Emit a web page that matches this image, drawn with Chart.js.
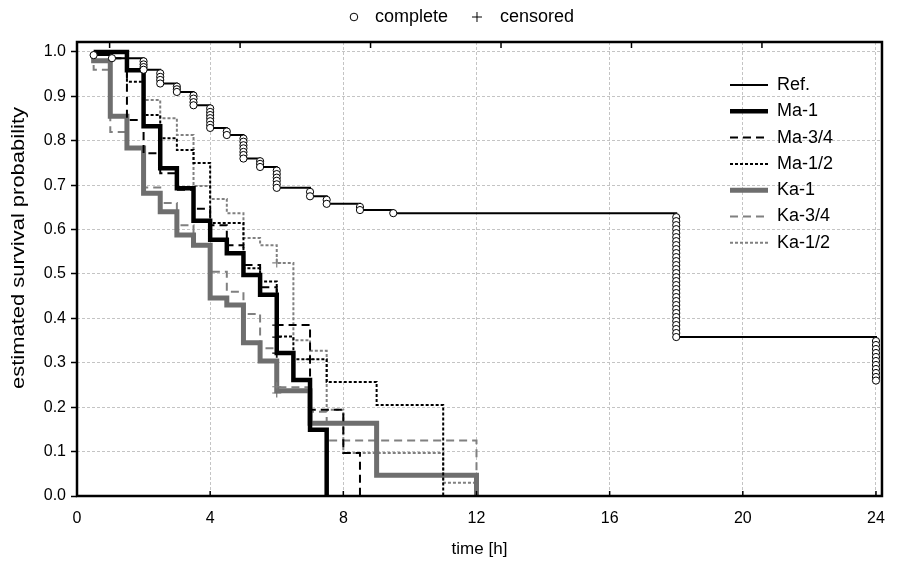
<!DOCTYPE html>
<html>
<head>
<meta charset="utf-8">
<script src="https://cdn.jsdelivr.net/npm/chart.js@4.4.1/dist/chart.umd.min.js"></script>
<style>
  html, body { margin: 0; padding: 0; background: #fff; }
</style>
</head>
<body>
<canvas id="km" width="898" height="568"></canvas>
<script>
// step curves: time of each step [h] and estimated survival after it
const refTimes = [0.5, 0.5, 1.05, 2.0, 2.5, 3.0, 3.5, 4.0, 4.5, 5.0, 5.5, 6.0, 7.0, 7.5, 8.5, 9.5, 18.0, 24.0];
const refSurv  = [1.0, 0.993, 0.986, 0.96, 0.929, 0.91, 0.88, 0.829, 0.813, 0.76, 0.741, 0.694, 0.675, 0.658, 0.644, 0.637, 0.358, 0.26];

const ma1Times = [0.5, 1.5, 2.0, 2.5, 3.0, 3.5, 4.0, 4.5, 5.0, 5.5, 6.0, 6.5, 7.0, 7.5];
const ma1Surv  = [1.0, 0.959, 0.833, 0.738, 0.693, 0.62, 0.577, 0.547, 0.498, 0.453, 0.322, 0.261, 0.149, 0.0];

const ma34Times = [0.5, 1.0, 1.5, 2.0, 2.5, 3.0, 3.5, 4.0, 4.5, 5.0, 5.5, 6.0, 7.0, 8.0, 8.5];
const ma34Surv  = [1.0, 0.986, 0.847, 0.772, 0.727, 0.69, 0.647, 0.61, 0.565, 0.52, 0.47, 0.385, 0.194, 0.097, 0.0];

const ma12Times = [0.5, 1.5, 2.0, 2.5, 3.0, 3.5, 4.0, 5.0, 5.5, 6.0, 6.5, 7.5, 9.0, 11.0];
const ma12Surv  = [1.0, 0.933, 0.858, 0.806, 0.779, 0.75, 0.615, 0.513, 0.483, 0.359, 0.308, 0.257, 0.205, 0.0];

const ka1Times = [0.5, 0.5, 1.0, 1.5, 2.0, 2.5, 3.0, 3.5, 4.0, 4.5, 5.0, 5.5, 6.0, 7.0, 9.0, 12.0];
const ka1Surv  = [1.0, 0.98, 0.855, 0.784, 0.682, 0.64, 0.588, 0.565, 0.446, 0.43, 0.345, 0.304, 0.237, 0.164, 0.047, 0.0];

const ka34Times = [0.5, 0.5, 1.0, 1.5, 2.0, 2.5, 3.0, 3.5, 4.0, 4.5, 5.0, 5.5, 6.0, 7.0, 7.5, 12.0];
const ka34Surv  = [1.0, 0.96, 0.82, 0.784, 0.695, 0.66, 0.61, 0.565, 0.505, 0.46, 0.41, 0.333, 0.245, 0.19, 0.125, 0.0];

const ka12Times = [0.5, 1.5, 2.0, 2.5, 3.0, 3.5, 4.0, 4.5, 5.0, 5.5, 6.0, 6.5, 7.0, 7.5, 8.0, 11.0, 12.0];
const ka12Surv  = [1.0, 0.96, 0.892, 0.851, 0.813, 0.698, 0.669, 0.637, 0.581, 0.565, 0.525, 0.351, 0.327, 0.194, 0.097, 0.03, 0.0];

// complete observations on the reference curve: [time, survival values]
const refComplete = [
  [0.5, [0.993]],
  [1.05, [0.986]],
  [2.0, [0.979, 0.972, 0.966, 0.960]],
  [2.5, [0.952, 0.944, 0.937, 0.929]],
  [3.0, [0.922, 0.916, 0.910]],
  [3.5, [0.902, 0.895, 0.887, 0.880]],
  [4.0, [0.873, 0.865, 0.858, 0.851, 0.844, 0.836, 0.829]],
  [4.5, [0.821, 0.813]],
  [5.0, [0.805, 0.798, 0.790, 0.783, 0.775, 0.768, 0.760]],
  [5.5, [0.754, 0.748, 0.741]],
  [6.0, [0.733, 0.725, 0.717, 0.710, 0.702, 0.694]],
  [7.0, [0.685, 0.675]],
  [7.5, [0.667, 0.658]],
  [8.5, [0.651, 0.644]],
  [9.5, [0.637]],
  [18.0, [0.628, 0.619, 0.610, 0.601, 0.592, 0.583, 0.574, 0.565, 0.556, 0.547, 0.538,
          0.529, 0.520, 0.511, 0.502, 0.493, 0.484, 0.475, 0.466, 0.457, 0.448, 0.439,
          0.430, 0.421, 0.412, 0.403, 0.394, 0.385, 0.376, 0.367, 0.358]],
  [24.0, [0.349, 0.340, 0.331, 0.322, 0.313, 0.304, 0.295, 0.286, 0.277, 0.268, 0.260]]
];

// censored observations
const censTimes = [6.0, 6.0, 6.0, 6.0, 6.0, 6.0, 7.0];
const censSurv  = [0.525, 0.385, 0.358, 0.322, 0.246, 0.232, 0.308];
const censOf    = ['Ka-1/2', 'Ma-3/4', 'Ma-1/2', 'Ma-1', 'Ka-3/4', 'Ka-1', 'Ma-1/2'];

const xTicks = [0, 4, 8, 12, 16, 20, 24];
const yTicks = [0, 0.1, 0.2, 0.3, 0.4, 0.5, 0.6, 0.7, 0.8, 0.9, 1.0];
const topTicks = [0, 1, 2, 3, 4, 5];

const FONT = '"Liberation Sans", Arial, sans-serif';
Chart.defaults.font.family = FONT;
Chart.defaults.color = '#000';

const black = '#000000';
const gray = '#6e6e6e';
const lightGray = '#808080';

function steps(times, surv) {
  return times.map((t, i) => ({ x: t, y: surv[i] }));
}

function curve(label, times, surv, color, width, dash) {
  return {
    label: label,
    data: steps(times, surv),
    showLine: true,
    stepped: 'before',
    borderColor: color,
    borderWidth: width,
    borderDash: dash,
    pointRadius: 0,
    fill: false,
    xAxisID: 'x',
    inLegend: true
  };
}

const completePoints = [];
refComplete.forEach(row => row[1].forEach(s => completePoints.push({ x: row[0], y: s })));

const curves = [
  curve('Ref.', refTimes, refSurv, black, 2, []),
  curve('Ma-1', ma1Times, ma1Surv, black, 4.5, []),
  curve('Ma-3/4', ma34Times, ma34Surv, black, 2, [8, 5]),
  curve('Ma-1/2', ma12Times, ma12Surv, black, 2, [3, 2]),
  curve('Ka-1', ka1Times, ka1Surv, gray, 5, []),
  curve('Ka-3/4', ka34Times, ka34Surv, lightGray, 2, [8, 5]),
  curve('Ka-1/2', ka12Times, ka12Surv, lightGray, 2, [3, 2])
];

const censColors = censOf.map(name => curves.find(c => c.label === name).borderColor);

const datasets = [
  {
    label: 'complete',
    data: completePoints,
    pointStyle: 'circle',
    pointRadius: 3.6,
    pointBorderWidth: 1,
    pointBorderColor: black,
    pointBackgroundColor: '#ffffff',
    xAxisID: 'x'
  },
  {
    label: 'censored',
    data: steps(censTimes, censSurv),
    pointStyle: 'cross',
    pointRadius: 4.5,
    pointBorderWidth: 1.2,
    pointBorderColor: censColors,
    xAxisID: 'x'
  }
].concat(curves);

// legend with the marker types, above the plot
const markerLegend = {
  id: 'markerLegend',
  afterDraw(chart) {
    const ctx = chart.ctx;
    const y = 17;
    ctx.save();
    ctx.font = '18px ' + FONT;
    ctx.textBaseline = 'middle';
    ctx.fillStyle = '#000';
    ctx.strokeStyle = '#000';
    ctx.lineWidth = 1;
    const label1 = chart.data.datasets[0].label;
    const label2 = chart.data.datasets[1].label;
    const w1 = ctx.measureText(label1).width;
    const w2 = ctx.measureText(label2).width;
    const total = 4 + 21 + w1 + 29 + 23 + w2;
    const c0 = 462 - total / 2 + 4;
    ctx.beginPath(); ctx.arc(c0, y, 3.8, 0, Math.PI * 2); ctx.stroke();
    ctx.fillText(label1, c0 + 21, y);
    const c1 = c0 + 21 + w1 + 29;
    ctx.beginPath();
    ctx.moveTo(c1 - 5, y); ctx.lineTo(c1 + 5, y);
    ctx.moveTo(c1, y - 5); ctx.lineTo(c1, y + 5);
    ctx.stroke();
    ctx.fillText(label2, c1 + 23, y);
    ctx.restore();
  }
};

// legend of the curves, inside the plot on the right
const curveLegend = {
  id: 'curveLegend',
  afterDatasetsDraw(chart) {
    const ctx = chart.ctx;
    let y = 85;
    chart.data.datasets.forEach(ds => {
      if (!ds.inLegend) return;
      ctx.save();
      ctx.strokeStyle = ds.borderColor;
      ctx.lineWidth = ds.borderWidth;
      ctx.setLineDash(ds.borderDash || []);
      ctx.beginPath(); ctx.moveTo(730, y); ctx.lineTo(768, y); ctx.stroke();
      ctx.setLineDash([]);
      ctx.fillStyle = '#000';
      ctx.font = '18px ' + FONT;
      ctx.textBaseline = 'middle';
      ctx.fillText(ds.label, 777, y);
      ctx.restore();
      y += 26.3;
    });
  }
};

// frame around the plot and the inward ticks
const frame = {
  id: 'frame',
  afterDatasetsDraw(chart) {
    const { ctx, chartArea: a, scales } = chart;
    ctx.save();
    ctx.strokeStyle = '#000';
    ctx.lineWidth = 1.5;
    scales.x.ticks.forEach(t => {
      const px = scales.x.getPixelForValue(t.value);
      ctx.beginPath(); ctx.moveTo(px, a.bottom); ctx.lineTo(px, a.bottom - 5); ctx.stroke();
    });
    scales.xTop.ticks.forEach(t => {
      const px = scales.xTop.getPixelForValue(t.value);
      ctx.beginPath(); ctx.moveTo(px, a.top); ctx.lineTo(px, a.top + 6); ctx.stroke();
    });
    ctx.lineWidth = 2.5;
    ctx.strokeRect(a.left, a.top, a.right - a.left, a.bottom - a.top);
    ctx.restore();
  }
};

// y axis title, drawn a little stretched along its length like the original
const yTitle = {
  id: 'yTitle',
  afterDraw(chart) {
    const ctx = chart.ctx;
    ctx.save();
    ctx.translate(19, 248);
    ctx.rotate(-Math.PI / 2);
    ctx.scale(1.22, 1);
    ctx.font = '18px ' + FONT;
    ctx.textAlign = 'center';
    ctx.textBaseline = 'middle';
    ctx.fillStyle = '#000';
    ctx.fillText(chart.options.scales.y.title.text, 0, 0);
    ctx.restore();
  }
};

new Chart(document.getElementById('km').getContext('2d'), {
  type: 'scatter',
  data: { datasets: datasets },
  options: {
    responsive: false,
    animation: false,
    devicePixelRatio: 1,
    layout: { padding: { top: 42, right: 2, bottom: 0, left: 0 } },
    plugins: {
      legend: { display: false },
      tooltip: { enabled: false }
    },
    scales: {
      x: {
        type: 'linear',
        position: 'bottom',
        min: 0,
        max: 24.18,
        afterBuildTicks: s => { s.ticks = xTicks.map(v => ({ value: v })); },
        afterFit: s => { s.height = 72; },
        grid: { color: '#c4c4c4', lineWidth: 1, drawTicks: false },
        border: { display: false, dash: [3, 2] },
        ticks: { color: '#000', font: { size: 16 }, padding: 13, maxRotation: 0, callback: v => String(v) },
        title: { display: true, text: 'time [h]', color: '#000', font: { size: 17 }, padding: { top: 0, bottom: 8 } }
      },
      xTop: {
        type: 'linear',
        position: 'top',
        min: -0.25,
        max: 5.92,
        afterBuildTicks: s => { s.ticks = topTicks.map(v => ({ value: v })); },
        grid: { display: false, drawTicks: false },
        border: { display: false },
        ticks: { display: false }
      },
      y: {
        type: 'linear',
        min: 0,
        max: 1.0225,
        afterBuildTicks: s => { s.ticks = yTicks.map(v => ({ value: v })); },
        afterFit: s => { s.width = 77; },
        grid: { color: '#c4c4c4', lineWidth: 1, tickColor: '#000', tickLength: 6, tickWidth: 1.5, tickBorderDash: [] },
        border: { display: false, dash: [3, 2] },
        ticks: { color: '#000', font: { size: 16 }, padding: 5, callback: v => v.toFixed(1) },
        title: { display: false, text: 'estimated survival probability' }
      }
    }
  },
  plugins: [curveLegend, frame, markerLegend, yTitle]
});
</script>
</body>
</html>
